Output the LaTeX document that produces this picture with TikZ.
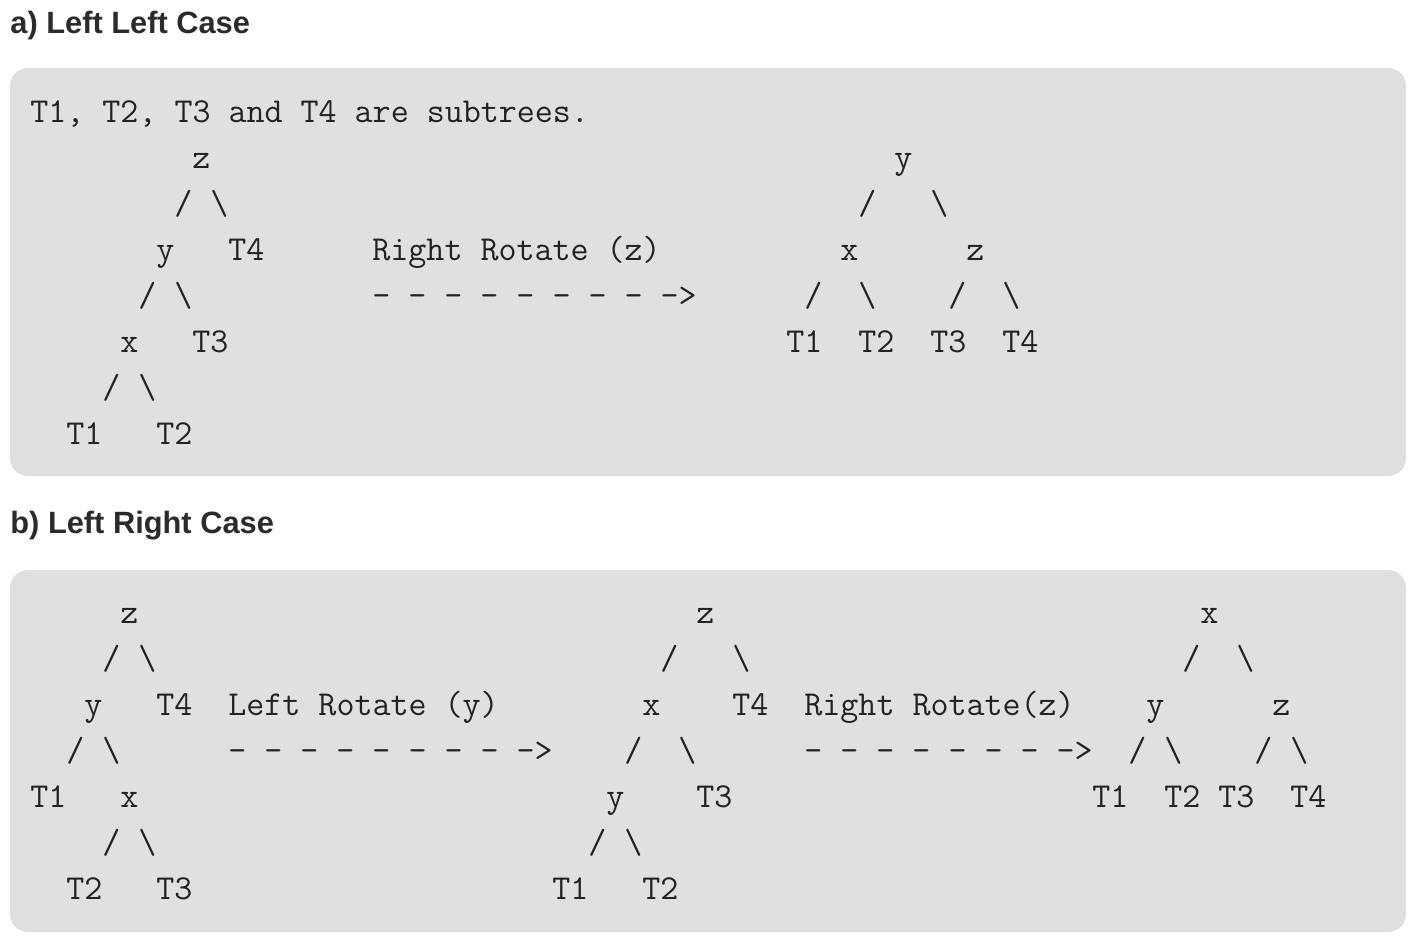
\documentclass[tikz,border=0pt]{standalone}
\usepackage{fontspec}
\usepackage[rgb]{xcolor}
\usepackage{tikz}

\newfontfamily\headfont{Liberation Sans}
\newcommand\asciifont{\ttfamily\fontsize{17.5pt}{17.5pt}\selectfont\frenchspacing\spaceskip9pt\relax}

\definecolor{boxgray}{HTML}{E0E0E0}
\definecolor{codeink}{HTML}{222222}
\definecolor{headink}{HTML}{2B2B2B}

\tikzset{
  code/.style={font=\asciifont, text=codeink, anchor=base west, inner sep=0pt},
  heading/.style={font=\headfont\bfseries\fontsize{15.4pt}{15.4pt}\selectfont, text=headink, anchor=base west, inner sep=0pt},
  panel/.style={fill=boxgray, rounded corners=9pt}
}

\begin{document}
\begin{tikzpicture}[x=0.5pt, y=-0.5pt]

\useasboundingbox (0,0) rectangle (1420,948);



% Left Left Case
\path 
(10,33) node [heading] (head-a) {a) Left Left Case};

\fill[panel] (10,68) rectangle (1406,476);

\path 
(30,122) node [code] (note) {T1, T2, T3 and T4 are subtrees.};


%
% Before rotation
%
\path (192,168) node [code] (a-z) {z};
\path (174,214) node [code] (a-zl) {/};
\path (210,214) node [code] (a-zr) {\textbackslash};
\path (156,260) node [code] (a-y) {y};
\path (228,260) node [code] (a-t4) {T4};
\path (138,306) node [code] (a-yl) {/};
\path (174,306) node [code] (a-yr) {\textbackslash};
\path (120,352) node [code] (a-x) {x};
\path (192,352) node [code] (a-t3) {T3};
\path (102,398) node [code] (a-xl) {/};
\path (138,398) node [code] (a-xr) {\textbackslash};
\path (66,444) node [code] (a-t1) {T1};
\path (156,444) node [code] (a-t2) {T2};


% Right Rotate arrow
\path 
(372,260) node [code] (a-op) {Right Rotate (z)};
\path 
(372,306) node [code] (a-arrow) {- - - - - - - - ->};


%
% After rotation
%
\path (894,168) node [code] (a2-y) {y};
\path (858,214) node [code] (a2-yl) {/};
\path (930,214) node [code] (a2-yr) {\textbackslash};
\path (840,260) node [code] (a2-x) {x};
\path (966,260) node [code] (a2-z) {z};
\path (804,306) node [code] (a2-xl) {/};
\path (858,306) node [code] (a2-xr) {\textbackslash};
\path (948,306) node [code] (a2-zl) {/};
\path (1002,306) node [code] (a2-zr) {\textbackslash};
\path (786,352) node [code] (a2-t1) {T1};
\path (858,352) node [code] (a2-t2) {T2};
\path (930,352) node [code] (a2-t3) {T3};
\path (1002,352) node [code] (a2-t4) {T4};



% Left Right Case
\path 
(10,533) node [heading] (head-b) {b) Left Right Case};

\fill[panel] (10,570) rectangle (1406,932);


%
% Before first rotation
%
\path (120,623) node [code] (b-z) {z};
\path (102,669) node [code] (b-zl) {/};
\path (138,669) node [code] (b-zr) {\textbackslash};
\path (84,715) node [code] (b-y) {y};
\path (156,715) node [code] (b-t4) {T4};
\path (66,761) node [code] (b-yl) {/};
\path (102,761) node [code] (b-yr) {\textbackslash};
\path (30,807) node [code] (b-t1) {T1};
\path (120,807) node [code] (b-x) {x};
\path (102,853) node [code] (b-xl) {/};
\path (138,853) node [code] (b-xr) {\textbackslash};
\path (66,899) node [code] (b-t2) {T2};
\path (156,899) node [code] (b-t3) {T3};


% Left Rotate arrow
\path 
(228,715) node [code] (b-op1) {Left Rotate (y)};
\path 
(228,761) node [code] (b-arrow1) {- - - - - - - - ->};


%
% After first rotation
%
\path (696,623) node [code] (b2-z) {z};
\path (660,669) node [code] (b2-zl) {/};
\path (732,669) node [code] (b2-zr) {\textbackslash};
\path (642,715) node [code] (b2-x) {x};
\path (732,715) node [code] (b2-t4) {T4};
\path (624,761) node [code] (b2-xl) {/};
\path (678,761) node [code] (b2-xr) {\textbackslash};
\path (606,807) node [code] (b2-y) {y};
\path (696,807) node [code] (b2-t3) {T3};
\path (588,853) node [code] (b2-yl) {/};
\path (624,853) node [code] (b2-yr) {\textbackslash};
\path (552,899) node [code] (b2-t1) {T1};
\path (642,899) node [code] (b2-t2) {T2};


% Right Rotate arrow
\path 
(804,715) node [code] (b-op2) {Right Rotate(z)};
\path 
(804,761) node [code] (b-arrow2) {- - - - - - - ->};


%
% After second rotation
%
\path (1200,623) node [code] (b3-x) {x};
\path (1182,669) node [code] (b3-xl) {/};
\path (1236,669) node [code] (b3-xr) {\textbackslash};
\path (1146,715) node [code] (b3-y) {y};
\path (1272,715) node [code] (b3-z) {z};
\path (1128,761) node [code] (b3-yl) {/};
\path (1164,761) node [code] (b3-yr) {\textbackslash};
\path (1254,761) node [code] (b3-zl) {/};
\path (1290,761) node [code] (b3-zr) {\textbackslash};
\path (1092,807) node [code] (b3-t1) {T1};
\path (1164,807) node [code] (b3-t2) {T2};
\path (1218,807) node [code] (b3-t3) {T3};
\path (1290,807) node [code] (b3-t4) {T4};




\end{tikzpicture}
\end{document}
